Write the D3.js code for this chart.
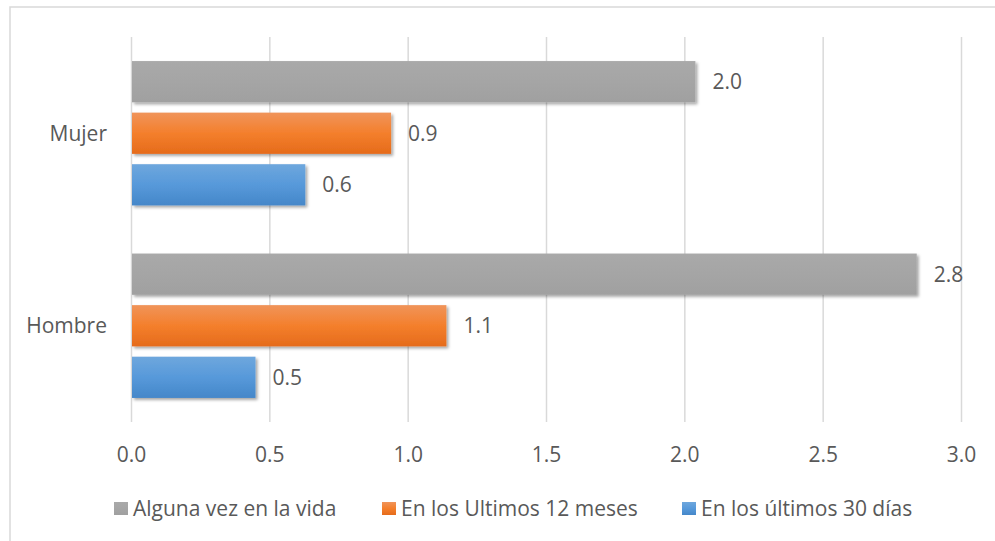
<!DOCTYPE html>
<html>
<head>
<meta charset="utf-8">
<script src="https://cdn.jsdelivr.net/npm/d3@7"></script>
<style>
  body { margin: 0; background: #fff; }
  text { font-family: "Open Sans", sans-serif; fill: #595959; }
</style>
</head>
<body>
<div id="chart"></div>
<script>
// data
const categories = ["Mujer", "Hombre"]
const seriesNames = ["Alguna vez en la vida", "En los Ultimos 12 meses", "En los últimos 30 días"]
const vidaValues = [2.04, 2.84]
const meses12Values = [0.94, 1.14]
const dias30Values = [0.63, 0.45]
const xTicks = [0, 0.5, 1, 1.5, 2, 2.5, 3]

const allValues = [vidaValues, meses12Values, dias30Values]

const W = 995, H = 541
const margin = {top: 37, right: 34, bottom: 119, left: 131}
const width = W - margin.left - margin.right,
    height = H - margin.top - margin.bottom
const fontSize = "21px"

const svgRoot = d3.select("#chart")
  .append("svg")
    .attr("width", W)
    .attr("height", H)

// outer chart border
svgRoot.append("rect")
  .attr("x", 10).attr("y", 7)
  .attr("width", W).attr("height", H)
  .attr("fill", "none")
  .attr("stroke", "#d9d9d9")
  .attr("stroke-width", 1.5)

const defs = svgRoot.append("defs")

const shadow = defs.append("filter").attr("id", "shadow")
  .attr("x", "-5%").attr("y", "-20%").attr("width", "115%").attr("height", "150%")
shadow.append("feDropShadow")
  .attr("dx", 2).attr("dy", 2).attr("stdDeviation", 1.6)
  .attr("flood-color", "#000").attr("flood-opacity", 0.35)

const grads = [
  ["#a9a9a9", "#a5a5a5", "#a0a0a0"],
  ["#f0945a", "#f47f2c", "#e56b1b"],
  ["#6ea7dd", "#5799da", "#4587c9"]
]
grads.forEach((g, i) => {
  const lg = defs.append("linearGradient").attr("id", "grad" + i)
    .attr("x1", 0).attr("y1", 0).attr("x2", 0).attr("y2", 1)
  lg.append("stop").attr("offset", "0%").attr("stop-color", g[0])
  lg.append("stop").attr("offset", "50%").attr("stop-color", g[1])
  lg.append("stop").attr("offset", "100%").attr("stop-color", g[2])
})

const svg = svgRoot.append("g")
  .attr("transform", `translate(${margin.left},${margin.top})`)

const x = d3.scaleLinear()
  .domain([0, 3])
  .range([0, 830])

const y = d3.scaleBand()
  .domain(categories)
  .range([0, height])
  .paddingInner(0.25)
  .paddingOuter(0.125)

const ySub = d3.scaleBand()
  .domain(d3.range(seriesNames.length))
  .range([0, y.bandwidth()])
  .paddingInner(0.2)

// gridlines + tick labels
svg.append("g")
  .call(d3.axisBottom(x).tickValues(xTicks).tickSize(height).tickFormat(d3.format(".1f")))
  .call(g => g.select(".domain").remove())
  .call(g => g.selectAll("line").attr("stroke", "#d9d9d9").attr("stroke-width", 1.5))
  .call(g => g.selectAll("text")
    .attr("y", height + 33)
    .attr("dy", "0.35em")
    .style("font-size", fontSize)
    .style("font-family", "'Open Sans', sans-serif")
    .attr("fill", "#595959"))

// category labels
svg.append("g")
  .selectAll("text")
  .data(categories)
  .join("text")
    .attr("x", -24)
    .attr("y", d => y(d) + y.bandwidth() / 2)
    .attr("dy", "0.35em")
    .attr("text-anchor", "end")
    .style("font-size", fontSize)
    .text(d => d)

// bars
const groups = svg.append("g")
  .selectAll("g")
  .data(allValues)
  .join("g")
    .attr("fill", (d, i) => `url(#grad${i})`)

groups.selectAll("rect")
  .data((vals, si) => vals.map((v, ci) => ({v, si, ci})))
  .join("rect")
    .attr("x", x(0) + 1)
    .attr("y", d => y(categories[d.ci]) + ySub(d.si))
    .attr("width", d => x(d.v) - x(0) - 1)
    .attr("height", ySub.bandwidth())
    .attr("filter", "url(#shadow)")

// value labels
groups.selectAll("text")
  .data((vals, si) => vals.map((v, ci) => ({v, si, ci})))
  .join("text")
    .attr("x", d => x(d.v) + 17)
    .attr("y", d => y(categories[d.ci]) + ySub(d.si) + ySub.bandwidth() / 2)
    .attr("dy", "0.35em")
    .style("font-size", fontSize)
    .text(d => d.v.toFixed(1))

// legend
const legendX = [114, 382, 682]
const legend = svgRoot.append("g")
  .selectAll("g")
  .data(seriesNames)
  .join("g")
    .attr("transform", (d, i) => `translate(${legendX[i]},502)`)

legend.append("rect")
  .attr("width", 14)
  .attr("height", 13)
  .attr("fill", (d, i) => `url(#grad${i})`)

legend.append("text")
  .attr("x", 19)
  .attr("y", 7)
  .attr("dy", "0.35em")
  .style("font-size", fontSize)
  .text(d => d)
</script>
</body>
</html>
